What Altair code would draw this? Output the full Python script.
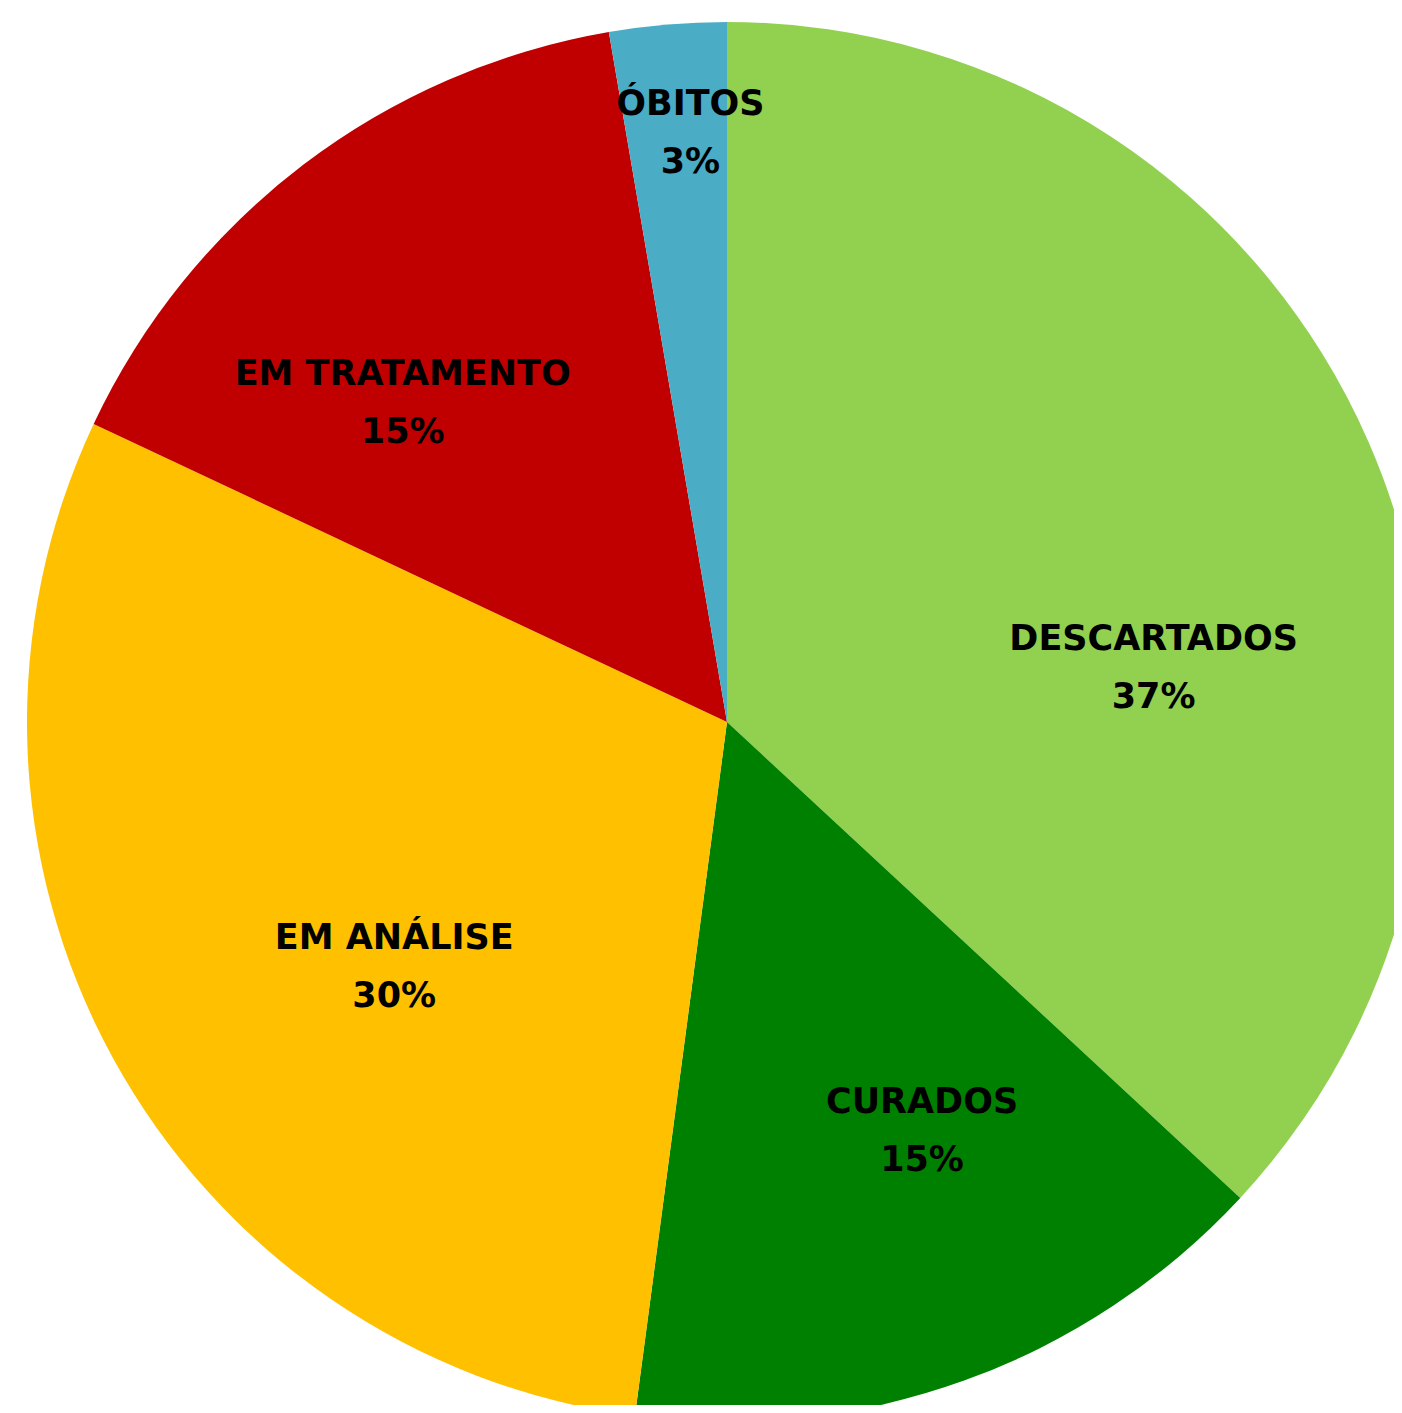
import altair as alt
import pandas as pd

categories = ["DESCARTADOS", "CURADOS", "EM ANÁLISE", "EM TRATAMENTO", "ÓBITOS"]
values = [36.9, 15.2, 29.9, 15.3, 2.7]
pct_labels = ["37%", "15%", "30%", "15%", "3%"]
colors = ["#92D050", "#008000", "#FFC000", "#C00000", "#4BACC6"]

# label placement tweaks (angle shift in degrees from slice middle, distance from centre in px)
label_shift = [16.4, -5.7, -7.7, -8.2, 1.3]
label_radius = [430, 453, 413, 455, 590]

CX, CY, R = 719, 714, 700
LINE_H = 58

df = pd.DataFrame({
    "cat": categories,
    "value": values,
    "pct": pct_labels,
    "order": list(range(len(categories))),
    "shift": label_shift,
    "lr": label_radius,
})
df["label"] = df["cat"] + "\n" + df["pct"]

base = alt.Chart(df)

pie = base.mark_arc(radius=R, clip=True, stroke=None).encode(
    theta=alt.Theta("value:Q", stack=True),
    order=alt.Order("order:O"),
    color=alt.Color("cat:N", scale=alt.Scale(domain=categories, range=colors), legend=None),
    x=alt.value(CX),
    y=alt.value(CY),
)

labels = base.transform_joinaggregate(
    total="sum(value)"
).transform_window(
    cum="sum(value)", sort=[alt.SortField("order")]
).transform_calculate(
    ang="((datum.cum - datum.value/2) / datum.total * 360 + datum.shift) * PI / 180"
).transform_calculate(
    lx=f"{CX} + datum.lr * sin(datum.ang)",
    ly=f"{CY} - datum.lr * cos(datum.ang) - {LINE_H / 2}",
).mark_text(
    font="DejaVu Sans", fontWeight="bold", fontSize=35, color="black",
    align="center", baseline="middle", lineBreak="\n", lineHeight=LINE_H,
).encode(
    x=alt.X("lx:Q", scale=None),
    y=alt.Y("ly:Q", scale=None),
    text="label:N",
)

chart = (pie + labels).properties(
    width=1386, height=1397, padding=0, autosize=alt.AutoSizeParams(type="none")
).configure_view(stroke=None)

chart.save("out.html", embed_options={"renderer": "svg", "actions": False})
